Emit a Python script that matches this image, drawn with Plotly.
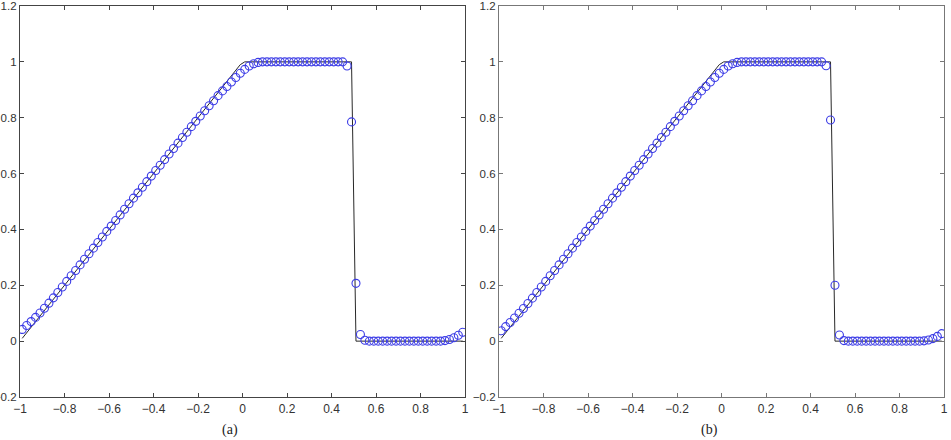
import plotly.graph_objects as go

# grid points (cell centres)
x_grid = [-0.99, -0.97, -0.95, -0.93, -0.91, -0.89, -0.87, -0.85, -0.83, -0.81,
          -0.79, -0.77, -0.75, -0.73, -0.71, -0.69, -0.67, -0.65, -0.63, -0.61,
          -0.59, -0.57, -0.55, -0.53, -0.51, -0.49, -0.47, -0.45, -0.43, -0.41,
          -0.39, -0.37, -0.35, -0.33, -0.31, -0.29, -0.27, -0.25, -0.23, -0.21,
          -0.19, -0.17, -0.15, -0.13, -0.11, -0.09, -0.07, -0.05, -0.03, -0.01,
          0.01, 0.03, 0.05, 0.07, 0.09, 0.11, 0.13, 0.15, 0.17, 0.19,
          0.21, 0.23, 0.25, 0.27, 0.29, 0.31, 0.33, 0.35, 0.37, 0.39,
          0.41, 0.43, 0.45, 0.47, 0.49, 0.51, 0.53, 0.55, 0.57, 0.59,
          0.61, 0.63, 0.65, 0.67, 0.69, 0.71, 0.73, 0.75, 0.77, 0.79,
          0.81, 0.83, 0.85, 0.87, 0.89, 0.91, 0.93, 0.95, 0.97, 0.99]

# numerical solution, panel (a)
u_a = [0.042, 0.056, 0.070, 0.085, 0.101, 0.118, 0.136, 0.155, 0.174, 0.194,
       0.214, 0.234, 0.253, 0.273, 0.293, 0.313, 0.333, 0.353, 0.373, 0.393,
       0.412, 0.432, 0.452, 0.472, 0.492, 0.512, 0.531, 0.551, 0.571, 0.591,
       0.611, 0.630, 0.650, 0.670, 0.690, 0.709, 0.729, 0.748, 0.768, 0.787,
       0.806, 0.825, 0.843, 0.861, 0.879, 0.896, 0.912, 0.928, 0.944, 0.959,
       0.973, 0.985, 0.993, 0.998, 1.0, 1.0, 1.0, 1.0, 1.0, 1.0,
       1.0, 1.0, 1.0, 1.0, 1.0, 1.0, 1.0, 1.0, 1.0, 1.0,
       1.0, 1.0, 1.0, 0.985, 0.785, 0.207, 0.024, 0.003, 0.0, 0.0,
       0.0, 0.0, 0.0, 0.0, 0.0, 0.0, 0.0, 0.0, 0.0, 0.0,
       0.0, 0.0, 0.0, 0.0, 0.0, 0.002, 0.006, 0.012, 0.021, 0.032]

# numerical solution, panel (b)
u_b = [0.037, 0.052, 0.067, 0.083, 0.100, 0.117, 0.135, 0.154, 0.174, 0.194,
       0.214, 0.234, 0.253, 0.273, 0.293, 0.313, 0.333, 0.353, 0.373, 0.393,
       0.412, 0.432, 0.452, 0.472, 0.492, 0.512, 0.531, 0.551, 0.571, 0.591,
       0.611, 0.630, 0.650, 0.670, 0.690, 0.709, 0.729, 0.748, 0.768, 0.787,
       0.806, 0.825, 0.843, 0.861, 0.879, 0.896, 0.912, 0.928, 0.944, 0.959,
       0.973, 0.985, 0.993, 0.998, 1.0, 1.0, 1.0, 1.0, 1.0, 1.0,
       1.0, 1.0, 1.0, 1.0, 1.0, 1.0, 1.0, 1.0, 1.0, 1.0,
       1.0, 1.0, 1.0, 0.986, 0.792, 0.200, 0.022, 0.002, 0.0, 0.0,
       0.0, 0.0, 0.0, 0.0, 0.0, 0.0, 0.0, 0.0, 0.0, 0.0,
       0.0, 0.0, 0.0, 0.0, 0.0, 0.001, 0.004, 0.009, 0.017, 0.027]

# exact solution breakpoints
x_exact = [-0.99, -0.01, 0.01, 0.49, 0.51, 0.99]
u_exact = [0.01, 0.99, 1.0, 1.0, 0.0, 0.0]

x_ticks = [-1, -0.8, -0.6, -0.4, -0.2, 0, 0.2, 0.4, 0.6, 0.8, 1]
x_ticktext = ["\u22121", "\u22120.8", "\u22120.6", "\u22120.4", "\u22120.2", "0", "0.2", "0.4", "0.6", "0.8", "1"]
y_ticks = [-0.2, 0, 0.2, 0.4, 0.6, 0.8, 1, 1.2]
y_ticktext = ["\u22120.2", "0", "0.2", "0.4", "0.6", "0.8", "1", "1.2"]
panel_labels = ["(a)", "(b)"]

W, H = 951, 440
fig = go.Figure()

marker_col = "rgb(60,60,230)"
for i, u in enumerate([u_a, u_b]):
    xa = "x" if i == 0 else "x2"
    ya = "y" if i == 0 else "y2"
    fig.add_trace(go.Scatter(x=x_exact, y=u_exact, mode="lines",
                             line=dict(color="rgb(40,40,40)", width=1),
                             xaxis=xa, yaxis=ya, showlegend=False))
    fig.add_trace(go.Scatter(x=x_grid, y=u, mode="markers",
                             marker=dict(symbol="circle-open", size=8,
                                         color=marker_col, line=dict(width=1.1)),
                             xaxis=xa, yaxis=ya, showlegend=False))

ydom = [(440 - 397) / H, (440 - 6) / H]
doms = [[20 / W, 465 / W], [499 / W, 944 / W]]
axis_common = dict(showgrid=False, zeroline=False, showline=True, mirror="ticks",
                   ticks="inside", ticklen=4, tickwidth=1, automargin=False,
                   linewidth=1.2, ticklabeloverflow="allow")
xfont = dict(family="Liberation Sans, Arial", size=12, color="#333")
yfont = dict(family="Liberation Sans, Arial", size=11.5, color="#333")

lay = dict(width=W, height=H, margin=dict(l=0, r=0, t=0, b=0),
           paper_bgcolor="white", plot_bgcolor="white", template="none")
for i in range(2):
    sx = "xaxis" if i == 0 else "xaxis2"
    sy = "yaxis" if i == 0 else "yaxis2"
    lc = "#444" if i == 0 else "#777"
    lay[sx] = dict(domain=doms[i], range=[-1, 1], tickvals=x_ticks, ticktext=x_ticktext,
                   anchor="y" if i == 0 else "y2", linecolor=lc, tickcolor=lc,
                   tickfont=xfont, **axis_common)
    lay[sy] = dict(domain=ydom, range=[-0.2, 1.2], tickvals=y_ticks, ticktext=y_ticktext,
                   anchor="x" if i == 0 else "x2", linecolor=lc, tickcolor=lc,
                   tickfont=yfont, **axis_common)
fig.update_layout(**lay)

label_x = [230 / W, 709 / W]
for i in range(2):
    fig.add_annotation(x=label_x[i], y=(440 - 430) / H, xref="paper", yref="paper",
                       text=panel_labels[i], showarrow=False,
                       font=dict(family="Liberation Serif, Times New Roman", size=14, color="#222"),
                       xanchor="center", yanchor="middle")

fig.write_html("out.html")
